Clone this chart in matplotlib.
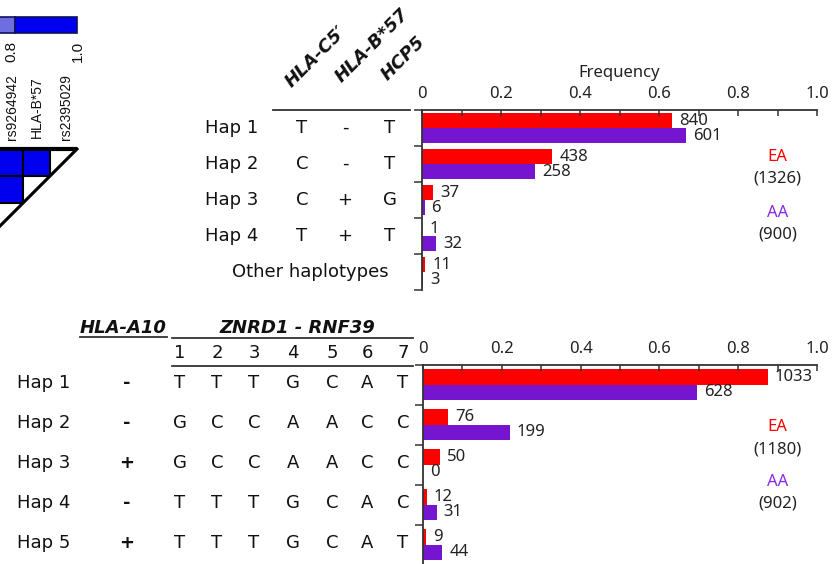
import matplotlib
matplotlib.use('Agg')
import matplotlib.pyplot as plt
import matplotlib.transforms as mtransforms
from matplotlib.patches import Rectangle, Polygon
from matplotlib.lines import Line2D
import numpy as np

W, H, DPI = 833, 564, 100

# ---------------- data ----------------
top_haps = ['Hap 1', 'Hap 2', 'Hap 3', 'Hap 4', 'Other haplotypes']
top_markers = ['HLA-C5\u2032', 'HLA-B*57', 'HCP5']
top_alleles = [['T', '-', 'T'], ['C', '-', 'T'], ['C', '+', 'G'], ['T', '+', 'T']]
top_ea_counts = [840, 438, 37, 1, 11]
top_aa_counts = [601, 258, 6, 32, 3]
top_ea_total = 1326
top_aa_total = 900

bot_haps = ['Hap 1', 'Hap 2', 'Hap 3', 'Hap 4', 'Hap 5']
bot_a10 = ['-', '-', '+', '-', '+']
bot_snp_ids = ['1', '2', '3', '4', '5', '6', '7']
bot_alleles = [list('TTTGCAT'), list('GCCAACC'), list('GCCAACC'),
               list('TTTGCAC'), list('TTTGCAT')]
bot_ea_counts = [1033, 76, 50, 12, 9]
bot_aa_counts = [628, 199, 0, 31, 44]
bot_ea_total = 1180
bot_aa_total = 902

freq_ticks = [0, 0.2, 0.4, 0.6, 0.8, 1.0]
freq_ticklabels = ['0', '0.2', '0.4', '0.6', '0.8', '1.0']
freq_minor = [0.1, 0.3, 0.5, 0.7, 0.9]

ld_snps = ['rs9264942', 'HLA-B*57', 'rs2395029']
ld_r2 = [[1.0, 1.0], [1.0], []]          # visible coloured cells per row
cbar_levels = [0.6, 0.8, 1.0]
cbar_colors = ['#6e6ee0', '#0000ee']
cbar_ticks = ['0.8', '1.0']

# ---------------- style ----------------
RED = '#ff0000'
PURPLE = '#7515d0'
PURPLE_TXT = '#8a2be2'
AX_COL = '#333333'
TABLE_FONT = 'DejaVu Sans'
CHART_FONT = 'Noto Sans'

fig = plt.figure(figsize=(W / DPI, H / DPI), dpi=DPI)
fig.patch.set_facecolor('white')


def fx(px):
    return px / W


def fy(py):
    return 1 - py / H


def add_axes_px(x0, y0, x1, y1):
    return fig.add_axes([fx(x0), fy(y1), (x1 - x0) / W, (y1 - y0) / H])


def hline(x0, x1, y, lw=1.3, color=AX_COL):
    fig.add_artist(Line2D([fx(x0), fx(x1)], [fy(y), fy(y)],
                          transform=fig.transFigure, color=color, lw=lw))


def bar_panel(ax, ea_counts, aa_counts, ea_total, aa_total, red_off, bh,
              ea_lbl_y, aa_lbl_y, show_xlabel):
    n = len(ea_counts)
    y = np.arange(n)
    ea = np.array(ea_counts) / ea_total
    aa = np.array(aa_counts) / aa_total
    ax.barh(y + red_off, ea, height=bh, align='edge', color=RED, linewidth=0)
    ax.barh(y + red_off + bh, aa, height=bh, align='edge', color=PURPLE, linewidth=0)
    for yi, v, c in zip(y, ea, ea_counts):
        ax.annotate(str(c), (v, yi + red_off + bh / 2), xytext=(5, 0),
                    textcoords='offset points', ha='left', va='center',
                    fontsize=12, family=CHART_FONT, color='#222222')
    for yi, v, c in zip(y, aa, aa_counts):
        ax.annotate(str(c), (v, yi + red_off + 1.5 * bh), xytext=(5, 0),
                    textcoords='offset points', ha='left', va='center',
                    fontsize=12, family=CHART_FONT, color='#222222')
    ax.set_xlim(0, 1)
    ax.set_ylim(n, 0)
    ax.xaxis.set_ticks_position('top')
    ax.set_xticks(freq_ticks)
    ax.set_xticklabels(freq_ticklabels, family=CHART_FONT, fontsize=12, color='#222222')
    ax.set_xticks(freq_minor, minor=True)
    ax.tick_params(axis='x', which='both', direction='in', length=4, width=1.1,
                   color=AX_COL, pad=6)
    ax.set_yticks(np.arange(n + 1))
    ax.set_yticklabels([])
    ax.tick_params(axis='y', direction='out', length=6, width=1.1, color=AX_COL)
    for s in ['right', 'bottom']:
        ax.spines[s].set_visible(False)
    for s in ['left', 'top']:
        ax.spines[s].set_color(AX_COL)
        ax.spines[s].set_linewidth(1.3)
    ax.set_facecolor('none')
    if show_xlabel:
        ax.xaxis.set_label_position('top')
        ax.set_xlabel('Frequency', family=CHART_FONT, fontsize=12,
                      color='#222222', labelpad=6)
    ax.text(0.9, ea_lbl_y[0], 'EA', color=RED, ha='center', va='center',
            family=CHART_FONT, fontsize=12)
    ax.text(0.9, ea_lbl_y[1], '(%d)' % ea_total, color='#222222', ha='center',
            va='center', family=CHART_FONT, fontsize=12)
    ax.text(0.9, aa_lbl_y[0], 'AA', color=PURPLE_TXT, ha='center', va='center',
            family=CHART_FONT, fontsize=12)
    ax.text(0.9, aa_lbl_y[1], '(%d)' % aa_total, color='#222222', ha='center',
            va='center', family=CHART_FONT, fontsize=12)


# ---------------- top panel ----------------
ax1 = add_axes_px(422, 110, 817, 290)
bar_panel(ax1, top_ea_counts, top_aa_counts, top_ea_total, top_aa_total,
          red_off=0.085, bh=0.42, ea_lbl_y=(1.31, 1.89), aa_lbl_y=(2.86, 3.47),
          show_xlabel=True)

tr1 = mtransforms.blended_transform_factory(fig.transFigure, ax1.transData)
top_cols = [302, 345, 390]
for i, name in enumerate(top_haps):
    if i < len(top_alleles):
        fig.text(fx(205), i + 0.5, name, transform=tr1, ha='left', va='center',
                 family=TABLE_FONT, fontsize=13, color='#111111')
        for cx, a in zip(top_cols, top_alleles[i]):
            fig.text(fx(cx), i + 0.5, a, transform=tr1, ha='center', va='center',
                     family=TABLE_FONT, fontsize=13, color='#111111')
    else:
        fig.text(fx(310), i + 0.5, name, transform=tr1, ha='center', va='center',
                 family=TABLE_FONT, fontsize=13, color='#111111')

hdr_anchor = [(292, 88), (342, 83), (388, 81)]
for (hx, hy), m in zip(hdr_anchor, top_markers):
    fig.text(fx(hx), fy(hy), m, rotation=45, rotation_mode='anchor',
             ha='left', va='baseline', family=TABLE_FONT, fontsize=13,
             fontweight='bold', fontstyle='italic', color='#111111')
hline(273, 410, 110)

# ---------------- bottom panel ----------------
ax2 = add_axes_px(423, 365, 817, 565)
bar_panel(ax2, bot_ea_counts, bot_aa_counts, bot_ea_total, bot_aa_total,
          red_off=0.1, bh=0.39, ea_lbl_y=(1.55, 2.12), aa_lbl_y=(2.93, 3.45),
          show_xlabel=False)

tr2 = mtransforms.blended_transform_factory(fig.transFigure, ax2.transData)
bot_cols = [180, 217, 254, 293, 332, 367, 403]
for i, name in enumerate(bot_haps):
    yy = i + 0.45
    fig.text(fx(17), yy, name, transform=tr2, ha='left', va='center',
             family=TABLE_FONT, fontsize=13, color='#111111')
    fig.text(fx(127), yy, bot_a10[i], transform=tr2, ha='center', va='center',
             family=TABLE_FONT, fontsize=13, fontweight='bold', color='#111111')
    for cx, a in zip(bot_cols, bot_alleles[i]):
        fig.text(fx(cx), yy, a, transform=tr2, ha='center', va='center',
                 family=TABLE_FONT, fontsize=13, color='#111111')
for cx, s in zip(bot_cols, bot_snp_ids):
    fig.text(fx(cx), fy(353), s, ha='center', va='center',
             family=TABLE_FONT, fontsize=13, color='#111111')

fig.text(fx(123), fy(328), 'HLA-A10', ha='center', va='center',
         family=TABLE_FONT, fontsize=13, fontweight='bold', fontstyle='italic',
         color='#111111')
fig.text(fx(297), fy(328), 'ZNRD1 - RNF39', ha='center', va='center',
         family=TABLE_FONT, fontsize=13, fontweight='bold', fontstyle='italic',
         color='#111111')
hline(80, 167, 337, lw=1.3)
hline(172, 413, 338)
hline(172, 413, 366)

# ---------------- partial LD plot (top-left) ----------------
ax_ld = add_axes_px(-4, 149, 77, 230)
ax_ld.set_xlim(0, 3)
ax_ld.set_ylim(3, 0)
ax_ld.axis('off')
n_ld = len(ld_snps)
for r, row in enumerate(ld_r2):
    for c, val in enumerate(row):
        ax_ld.add_patch(Rectangle((c, r), 1, 1,
                                  facecolor=cbar_colors[-1] if val >= 0.8 else cbar_colors[0],
                                  edgecolor='black', lw=1.5, clip_on=False))
    c = n_ld - 1 - r
    ax_ld.add_patch(Polygon([(c, r), (c + 1, r), (c, r + 1)], closed=True,
                            facecolor='white', edgecolor='black', lw=1.5, clip_on=False))
ax_ld.plot([0, 3], [0, 0], color='black', lw=3, solid_capstyle='butt', clip_on=False)
ax_ld.plot([3, 0], [0, 3], color='black', lw=2.2, clip_on=False)

ld_label_x = [12, 37, 66]
for lx, s in zip(ld_label_x, ld_snps):
    fig.text(fx(lx), fy(107), s, rotation=90, ha='center', va='center',
             family='Liberation Sans', fontsize=10, color='#111111')

# colour bar
ax_cb = add_axes_px(-47, 17, 77, 33)
ax_cb.set_xlim(cbar_levels[0], cbar_levels[-1])
ax_cb.set_ylim(0, 1)
ax_cb.axis('off')
for lo, hi, col in zip(cbar_levels[:-1], cbar_levels[1:], cbar_colors):
    ax_cb.add_patch(Rectangle((lo, 0), hi - lo, 1, facecolor=col,
                              edgecolor='#101060', lw=1.2, clip_on=False))
for lx, s in zip([11, 78], cbar_ticks):
    fig.text(fx(lx), fy(51), s, rotation=90, ha='center', va='center',
             family='Liberation Sans', fontsize=11, color='#111111')

fig.savefig('out.png', dpi=DPI)
